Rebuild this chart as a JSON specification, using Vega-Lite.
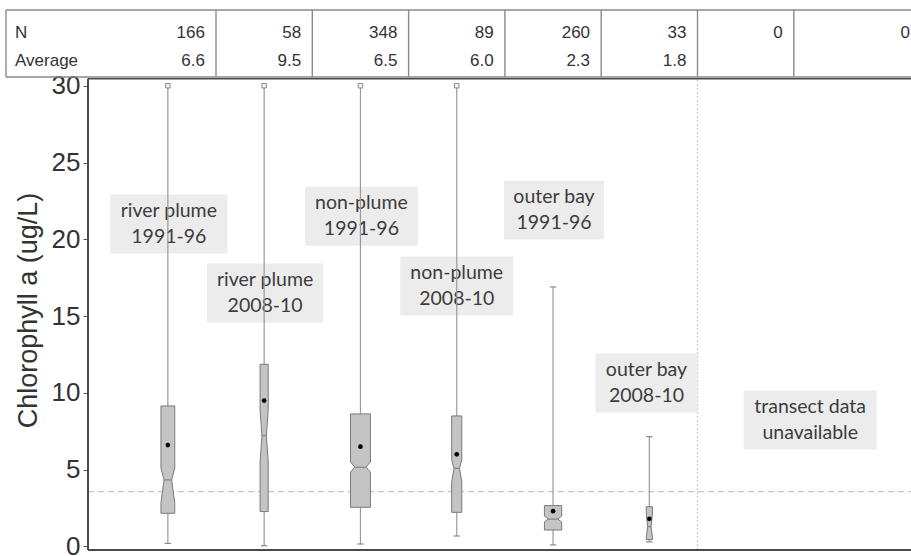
{
  "$schema": "https://vega.github.io/schema/vega-lite/v6.json",
  "width": 823,
  "height": 540,
  "autosize": {"type": "none"},
  "padding": {"left": 88, "top": 10, "right": 0, "bottom": 6},
  "background": "white",
  "config": {
    "view": {"stroke": null},
    "axisY": {
      "domain": false, "grid": false,
      "tickSize": 5, "tickColor": "#555555", "tickWidth": 1,
      "labelFont": "Liberation Sans", "labelFontSize": 26, "labelColor": "#333333", "labelPadding": 3,
      "titleFont": "Liberation Sans", "titleFontSize": 27, "titleFontWeight": "normal", "titleColor": "#333333",
      "titleX": -60, "titleY": 300, "titleAngle": -90, "titleAlign": "center", "titleBaseline": "middle"
    }
  },
  "data": {
    "values": [
      {"pos": 1, "N": 166, "avg": 6.6, "lo": 0.2, "q1": 2.16, "nlo": 2.85, "med": 4.33, "nhi": 5.1, "q3": 9.15, "hi": 30, "label": "river plume\n1991-96", "lx": 1.01, "ly": 21.0},
      {"pos": 2, "N": 58, "avg": 9.5, "lo": 0.05, "q1": 2.27, "nlo": 5.5, "med": 7.21, "nhi": 8.9, "q3": 11.86, "hi": 30, "label": "river plume\n2008-10", "lx": 2.01, "ly": 16.5},
      {"pos": 3, "N": 348, "avg": 6.5, "lo": 0.16, "q1": 2.55, "nlo": 4.85, "med": 5.16, "nhi": 5.5, "q3": 8.63, "hi": 30, "label": "non-plume\n1991-96", "lx": 3.01, "ly": 21.5},
      {"pos": 4, "N": 89, "avg": 6.0, "lo": 0.68, "q1": 2.22, "nlo": 4.2, "med": 5.09, "nhi": 5.65, "q3": 8.5, "hi": 30, "label": "non-plume\n2008-10", "lx": 4.0, "ly": 16.96},
      {"pos": 5, "N": 260, "avg": 2.3, "lo": 0.1, "q1": 1.07, "nlo": 1.6, "med": 1.78, "nhi": 1.98, "q3": 2.66, "hi": 16.9, "label": "outer bay\n1991-96", "lx": 5.01, "ly": 21.9},
      {"pos": 6, "N": 33, "avg": 1.8, "lo": 0.3, "q1": 0.62, "nlo": 0.45, "med": 1.29, "nhi": 2.1, "q3": 2.59, "hi": 7.15, "label": "outer bay\n2008-10", "lx": 5.97, "ly": 10.64},
      {"pos": 7, "N": 0, "avg": null, "label": "transect data\nunavailable", "lx": 7.67, "ly": 8.24},
      {"pos": 8, "N": 0, "avg": null}
    ]
  },
  "layer": [
    {
      "data": {"values": [{}]},
      "mark": {"type": "rule", "stroke": "#c6c6c6", "strokeDash": [6, 4], "strokeWidth": 1.2},
      "encoding": {
        "x": {"datum": 0.1708, "type": "quantitative", "scale": {"domain": [0.1708, 8.717], "nice": false, "zero": false}, "axis": null},
        "x2": {"datum": 8.717},
        "y": {"datum": 3.57, "type": "quantitative", "scale": {"domain": [-0.23, 34.93], "nice": false, "zero": false}, "title": "Chlorophyll a (ug/L)", "axis": {"values": [0, 5, 10, 15, 20, 25, 30]}}
      }
    },
    {
      "data": {"values": [{}]},
      "mark": {"type": "rule", "stroke": "#c6c6c6", "strokeDash": [2, 2], "strokeWidth": 1.2},
      "encoding": {
        "x": {"datum": 6.5, "type": "quantitative", "axis": null},
        "y": {"datum": -0.23, "type": "quantitative", "title": "Chlorophyll a (ug/L)", "axis": {"values": [0, 5, 10, 15, 20, 25, 30]}},
        "y2": {"datum": 30.45}
      }
    },
    {
      "transform": [{"filter": "datum.label != null"}],
      "mark": {"type": "point", "filled": true, "fill": "#ececec", "opacity": 1, "strokeWidth": 0, "size": 17956},
      "encoding": {
        "x": {"field": "lx", "type": "quantitative", "axis": null},
        "y": {"field": "ly", "type": "quantitative", "title": "Chlorophyll a (ug/L)", "axis": {"values": [0, 5, 10, 15, 20, 25, 30]}},
        "shape": {
          "field": "label", "type": "nominal", "legend": null,
          "scale": {
            "domain": ["river plume\n1991-96", "river plume\n2008-10", "non-plume\n1991-96", "non-plume\n2008-10", "outer bay\n1991-96", "outer bay\n2008-10", "transect data\nunavailable"],
            "range": ["M-0.873,-0.44H0.873V0.44H-0.873Z", "M-0.866,-0.44H0.866V0.44H-0.866Z", "M-0.843,-0.44H0.843V0.44H-0.843Z", "M-0.843,-0.44H0.843V0.44H-0.843Z", "M-0.746,-0.44H0.746V0.44H-0.746Z", "M-0.761,-0.44H0.761V0.44H-0.761Z", "M-0.993,-0.44H0.993V0.44H-0.993Z"]
          }
        }
      }
    },
    {
      "transform": [{"filter": "datum.label != null"}],
      "mark": {"type": "text", "font": "Lato", "fontSize": 19.5, "color": "#3c3c3c", "lineBreak": "\n", "lineHeight": 26, "baseline": "middle", "align": "center", "dy": -13},
      "encoding": {
        "x": {"field": "lx", "type": "quantitative", "axis": null},
        "y": {"field": "ly", "type": "quantitative", "title": "Chlorophyll a (ug/L)", "axis": {"values": [0, 5, 10, 15, 20, 25, 30]}},
        "text": {"field": "label"}
      }
    },
    {
      "transform": [{"filter": "datum.N > 0"}],
      "mark": {"type": "rule", "stroke": "#9a9a9a", "strokeWidth": 1.2},
      "encoding": {
        "x": {"field": "pos", "type": "quantitative", "axis": null},
        "y": {"field": "lo", "type": "quantitative", "title": "Chlorophyll a (ug/L)", "axis": {"values": [0, 5, 10, 15, 20, 25, 30]}},
        "y2": {"field": "q1"}
      }
    },
    {
      "transform": [{"filter": "datum.N > 0"}],
      "mark": {"type": "rule", "stroke": "#9a9a9a", "strokeWidth": 1.2},
      "encoding": {
        "x": {"field": "pos", "type": "quantitative", "axis": null},
        "y": {"field": "q3", "type": "quantitative", "title": "Chlorophyll a (ug/L)", "axis": {"values": [0, 5, 10, 15, 20, 25, 30]}},
        "y2": {"field": "hi"}
      }
    },
    {
      "transform": [{"filter": "datum.N > 0"}],
      "mark": {"type": "point", "shape": "stroke", "filled": false, "stroke": "#8a8a8a", "strokeWidth": 1.2, "size": 40, "opacity": 1},
      "encoding": {
        "x": {"field": "pos", "type": "quantitative", "axis": null},
        "y": {"field": "lo", "type": "quantitative", "title": "Chlorophyll a (ug/L)", "axis": {"values": [0, 5, 10, 15, 20, 25, 30]}}
      }
    },
    {
      "transform": [{"filter": "datum.N > 0 && datum.hi < 30"}],
      "mark": {"type": "point", "shape": "stroke", "filled": false, "stroke": "#8a8a8a", "strokeWidth": 1.2, "size": 40, "opacity": 1},
      "encoding": {
        "x": {"field": "pos", "type": "quantitative", "axis": null},
        "y": {"field": "hi", "type": "quantitative", "title": "Chlorophyll a (ug/L)", "axis": {"values": [0, 5, 10, 15, 20, 25, 30]}}
      }
    },
    {
      "transform": [{"filter": "datum.N > 0 && datum.hi >= 30"}],
      "mark": {"type": "point", "shape": "square", "filled": true, "fill": "#f4f4f4", "stroke": "#8a8a8a", "strokeWidth": 1, "size": 20, "opacity": 1},
      "encoding": {
        "x": {"field": "pos", "type": "quantitative", "axis": null},
        "y": {"field": "hi", "type": "quantitative", "title": "Chlorophyll a (ug/L)", "axis": {"values": [0, 5, 10, 15, 20, 25, 30]}}
      }
    },
    {
      "transform": [
        {"filter": "datum.N > 0"},
        {"calculate": "0.1038*sqrt(datum.N/348)", "as": "hw"},
        {"fold": ["q1", "nlo", "med", "nhi", "q3"], "as": ["key", "value"]},
        {"calculate": "datum.key === 'med' ? 0.55*datum.hw : datum.hw", "as": "w"},
        {"calculate": "datum.pos - datum.w", "as": "xl"},
        {"calculate": "datum.pos + datum.w", "as": "xr"}
      ],
      "mark": {"type": "area", "orient": "horizontal", "fill": "#c4c4c4", "stroke": "#7a7a7a", "strokeWidth": 1, "opacity": 1, "fillOpacity": 1},
      "encoding": {
        "y": {"field": "value", "type": "quantitative", "title": "Chlorophyll a (ug/L)", "axis": {"values": [0, 5, 10, 15, 20, 25, 30]}},
        "x": {"field": "xl", "type": "quantitative", "axis": null},
        "x2": {"field": "xr"},
        "detail": {"field": "pos", "type": "nominal"}
      }
    },
    {
      "transform": [
        {"filter": "datum.N > 0"},
        {"calculate": "0.1038*sqrt(datum.N/348)", "as": "hw"},
        {"calculate": "datum.pos - 0.55*datum.hw", "as": "ml"},
        {"calculate": "datum.pos + 0.55*datum.hw", "as": "mr"}
      ],
      "mark": {"type": "rule", "stroke": "#7a7a7a", "strokeWidth": 1},
      "encoding": {
        "x": {"field": "ml", "type": "quantitative", "axis": null},
        "x2": {"field": "mr"},
        "y": {"field": "med", "type": "quantitative", "title": "Chlorophyll a (ug/L)", "axis": {"values": [0, 5, 10, 15, 20, 25, 30]}}
      }
    },
    {
      "transform": [{"filter": "datum.avg != null"}],
      "mark": {"type": "point", "shape": "circle", "filled": true, "fill": "#000000", "size": 22, "opacity": 1},
      "encoding": {
        "x": {"field": "pos", "type": "quantitative", "axis": null},
        "y": {"field": "avg", "type": "quantitative", "title": "Chlorophyll a (ug/L)", "axis": {"values": [0, 5, 10, 15, 20, 25, 30]}}
      }
    },
    {
      "data": {"values": [{}]},
      "mark": {"type": "rule", "stroke": "#4a4a4a", "strokeWidth": 2},
      "encoding": {
        "x": {"datum": 0.1708, "type": "quantitative", "axis": null},
        "y": {"datum": -0.23, "type": "quantitative", "title": "Chlorophyll a (ug/L)", "axis": {"values": [0, 5, 10, 15, 20, 25, 30]}},
        "y2": {"datum": 30.45}
      }
    },
    {
      "data": {"values": [{}]},
      "mark": {"type": "rule", "stroke": "#4a4a4a", "strokeWidth": 2},
      "encoding": {
        "x": {"datum": 0.1708, "type": "quantitative", "axis": null},
        "x2": {"datum": 8.717},
        "y": {"datum": -0.23, "type": "quantitative", "title": "Chlorophyll a (ug/L)", "axis": {"values": [0, 5, 10, 15, 20, 25, 30]}}
      }
    },
    {
      "data": {"values": [{}]},
      "mark": {"type": "rule", "stroke": "#4a4a4a", "strokeWidth": 1.6},
      "encoding": {
        "x": {"datum": 0.1708, "type": "quantitative", "axis": null},
        "x2": {"datum": 8.717},
        "y": {"datum": 30.45, "type": "quantitative", "title": "Chlorophyll a (ug/L)", "axis": {"values": [0, 5, 10, 15, 20, 25, 30]}}
      }
    },
    {
      "data": {"values": [{}]},
      "mark": {"type": "rule", "stroke": "#8a8a8a", "strokeWidth": 1.4},
      "encoding": {
        "x": {"datum": -0.681, "type": "quantitative", "axis": null},
        "x2": {"datum": 8.717},
        "y": {"datum": 34.93, "type": "quantitative", "title": "Chlorophyll a (ug/L)", "axis": {"values": [0, 5, 10, 15, 20, 25, 30]}}
      }
    },
    {
      "data": {"values": [{}]},
      "mark": {"type": "rule", "stroke": "#8a8a8a", "strokeWidth": 1.4},
      "encoding": {
        "x": {"datum": -0.681, "type": "quantitative", "axis": null},
        "x2": {"datum": 8.717},
        "y": {"datum": 30.57, "type": "quantitative", "title": "Chlorophyll a (ug/L)", "axis": {"values": [0, 5, 10, 15, 20, 25, 30]}}
      }
    },
    {
      "data": {"values": [{}]},
      "mark": {"type": "rule", "stroke": "#8a8a8a", "strokeWidth": 1.4},
      "encoding": {
        "x": {"datum": -0.681, "type": "quantitative", "axis": null},
        "y": {"datum": 30.57, "type": "quantitative", "title": "Chlorophyll a (ug/L)", "axis": {"values": [0, 5, 10, 15, 20, 25, 30]}},
        "y2": {"datum": 34.93}
      }
    },
    {
      "transform": [{"filter": "datum.pos <= 7"}],
      "mark": {"type": "rule", "stroke": "#8a8a8a", "strokeWidth": 1.4, "xOffset": 48.15},
      "encoding": {
        "x": {"field": "pos", "type": "quantitative", "axis": null},
        "y": {"datum": 30.57, "type": "quantitative", "title": "Chlorophyll a (ug/L)", "axis": {"values": [0, 5, 10, 15, 20, 25, 30]}},
        "y2": {"datum": 34.93}
      }
    },
    {
      "data": {"values": [{}]},
      "mark": {"type": "text", "text": "N", "align": "left", "baseline": "middle", "font": "Liberation Sans", "fontSize": 17, "color": "#333333"},
      "encoding": {
        "x": {"datum": -0.587, "type": "quantitative", "axis": null},
        "y": {"datum": 33.43, "type": "quantitative", "title": "Chlorophyll a (ug/L)", "axis": {"values": [0, 5, 10, 15, 20, 25, 30]}}
      }
    },
    {
      "data": {"values": [{}]},
      "mark": {"type": "text", "text": "Average", "align": "left", "baseline": "middle", "font": "Liberation Sans", "fontSize": 17, "color": "#333333"},
      "encoding": {
        "x": {"datum": -0.587, "type": "quantitative", "axis": null},
        "y": {"datum": 31.61, "type": "quantitative", "title": "Chlorophyll a (ug/L)", "axis": {"values": [0, 5, 10, 15, 20, 25, 30]}}
      }
    },
    {
      "transform": [{"filter": "datum.pos <= 7"}],
      "mark": {"type": "text", "align": "right", "baseline": "middle", "dx": 37, "font": "Liberation Sans", "fontSize": 17, "color": "#333333"},
      "encoding": {
        "x": {"field": "pos", "type": "quantitative", "axis": null},
        "y": {"datum": 33.43, "type": "quantitative", "title": "Chlorophyll a (ug/L)", "axis": {"values": [0, 5, 10, 15, 20, 25, 30]}},
        "text": {"field": "N", "type": "quantitative"}
      }
    },
    {
      "transform": [{"filter": "datum.pos == 8"}],
      "mark": {"type": "text", "align": "right", "baseline": "middle", "dx": 68, "font": "Liberation Sans", "fontSize": 17, "color": "#333333"},
      "encoding": {
        "x": {"field": "pos", "type": "quantitative", "axis": null},
        "y": {"datum": 33.43, "type": "quantitative", "title": "Chlorophyll a (ug/L)", "axis": {"values": [0, 5, 10, 15, 20, 25, 30]}},
        "text": {"field": "N", "type": "quantitative"}
      }
    },
    {
      "transform": [{"filter": "datum.avg != null"}],
      "mark": {"type": "text", "align": "right", "baseline": "middle", "dx": 37, "font": "Liberation Sans", "fontSize": 17, "color": "#333333"},
      "encoding": {
        "x": {"field": "pos", "type": "quantitative", "axis": null},
        "y": {"datum": 31.61, "type": "quantitative", "title": "Chlorophyll a (ug/L)", "axis": {"values": [0, 5, 10, 15, 20, 25, 30]}},
        "text": {"field": "avg", "type": "quantitative", "format": ".1f"}
      }
    }
  ]
}
